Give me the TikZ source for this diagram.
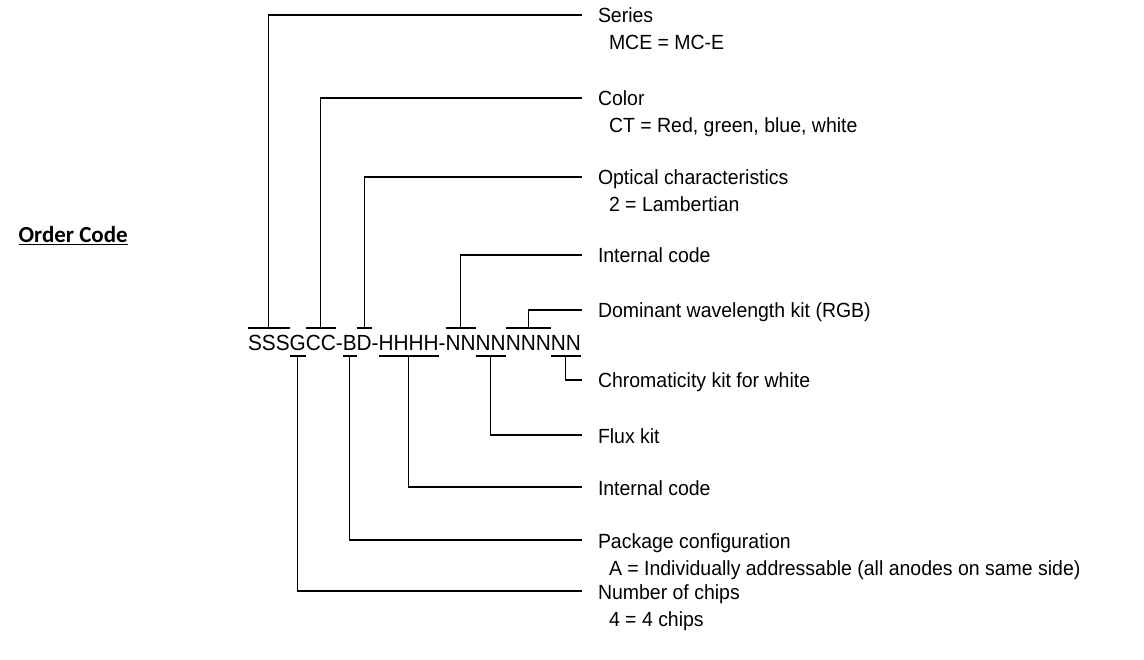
\documentclass[tikz,border=0pt]{standalone}
\usepackage{fontspec}
\setmainfont{Liberation Sans}
\newfontfamily\narrowfont[FakeStretch=0.95]{Liberation Sans}
\newfontfamily\titlefont{Carlito}
\usetikzlibrary{calc}
\begin{document}
\begin{tikzpicture}[x=1pt,y=-1pt,
  conn/.style={line width=1.2pt,line join=miter},
  lbl/.style={inner sep=0pt,outer sep=0pt,anchor=base west,font=\narrowfont\fontsize{20.5}{24}\selectfont},
  cd/.style={inner sep=0pt,outer sep=0pt,anchor=base west,font=\narrowfont\fontsize{21.9}{25}\selectfont}]
\useasboundingbox (0,0) rectangle (1144,660);
% title
\node[inner sep=0pt,anchor=base east,font=\titlefont\bfseries\fontsize{23}{26}\selectfont] (title) at (128,243) {\underline{Order Code}};
% code groups
\node[cd] (sss) at (248,351) {SSS};
\node[cd] (g) at (sss.base east) {G};
\node[cd] (cc) at (g.base east) {CC};
\node[cd] (h1) at (cc.base east) {-};
\node[cd] (b) at (h1.base east) {B};
\node[cd] (d) at (b.base east) {D};
\node[cd] (h2) at (d.base east) {-};
\node[cd] (hhhh) at (h2.base east) {HHHH};
\node[cd] (h3) at (hhhh.base east) {-};
\node[cd] (n1) at (h3.base east) {NN};
\node[cd] (n2) at (n1.base east) {NN};
\node[cd] (n3) at (n2.base east) {NNN};
\node[cd] (n4) at (n3.base east) {NN};
% label line ends
\coordinate (eseries) at (582,15);
\coordinate (ecolor) at (582,98);
\coordinate (eoptic) at (582,177);
\coordinate (eint) at (582,255);
\coordinate (edom) at (582,310);
\coordinate (echrom) at (582,380);
\coordinate (eflux) at (582,435);
\coordinate (eint2) at (582,487);
\coordinate (epack) at (582,540);
\coordinate (echips) at (582,591);
% labels
\node[lbl] (lseries) at ($(eseries)+(16,8)$) {Series};
\node[lbl] (vseries) at ($(lseries.base west)+(11,27)$) {MCE = MC-E};
\node[lbl] (lcolor) at ($(ecolor)+(16,8)$) {Color};
\node[lbl] (vcolor) at ($(lcolor.base west)+(11,27)$) {CT = Red, green, blue, white};
\node[lbl] (loptic) at ($(eoptic)+(16,8)$) {Optical characteristics};
\node[lbl] (voptic) at ($(loptic.base west)+(11,27)$) {2 = Lambertian};
\node[lbl] (lint) at ($(eint)+(16,8)$) {Internal code};
\node[lbl] (ldom) at ($(edom)+(16,8)$) {Dominant wavelength kit (RGB)};
\node[lbl] (lchrom) at ($(echrom)+(16,8)$) {Chromaticity kit for white};
\node[lbl] (lflux) at ($(eflux)+(16,8)$) {Flux kit};
\node[lbl] (lint2) at ($(eint2)+(16,8)$) {Internal code};
\node[lbl] (lpack) at ($(epack)+(16,8)$) {Package configuration};
\node[lbl] (vpack) at ($(lpack.base west)+(11,27)$) {A = Individually addressable (all anodes on same side)};
\node[lbl] (lchips) at ($(echips)+(16,8)$) {Number of chips};
\node[lbl] (vchips) at ($(lchips.base west)+(11,27)$) {4 = 4 chips};
% upper bars and connectors
\foreach \n/\e in {sss/eseries, cc/ecolor, d/eoptic, n1/eint, n3/edom} {
  \draw[conn] (\n.west |- 0,328) -- (\n.east |- 0,328);
  \draw[conn] (\n.center |- 0,328) |- (\e);
}
% lower bars and connectors
\foreach \n/\e in {g/echips, b/epack, hhhh/eint2, n2/eflux, n4/echrom} {
  \draw[conn] (\n.west |- 0,356) -- (\n.east |- 0,356);
  \draw[conn] (\n.center |- 0,356) |- (\e);
}
\end{tikzpicture}
\end{document}
